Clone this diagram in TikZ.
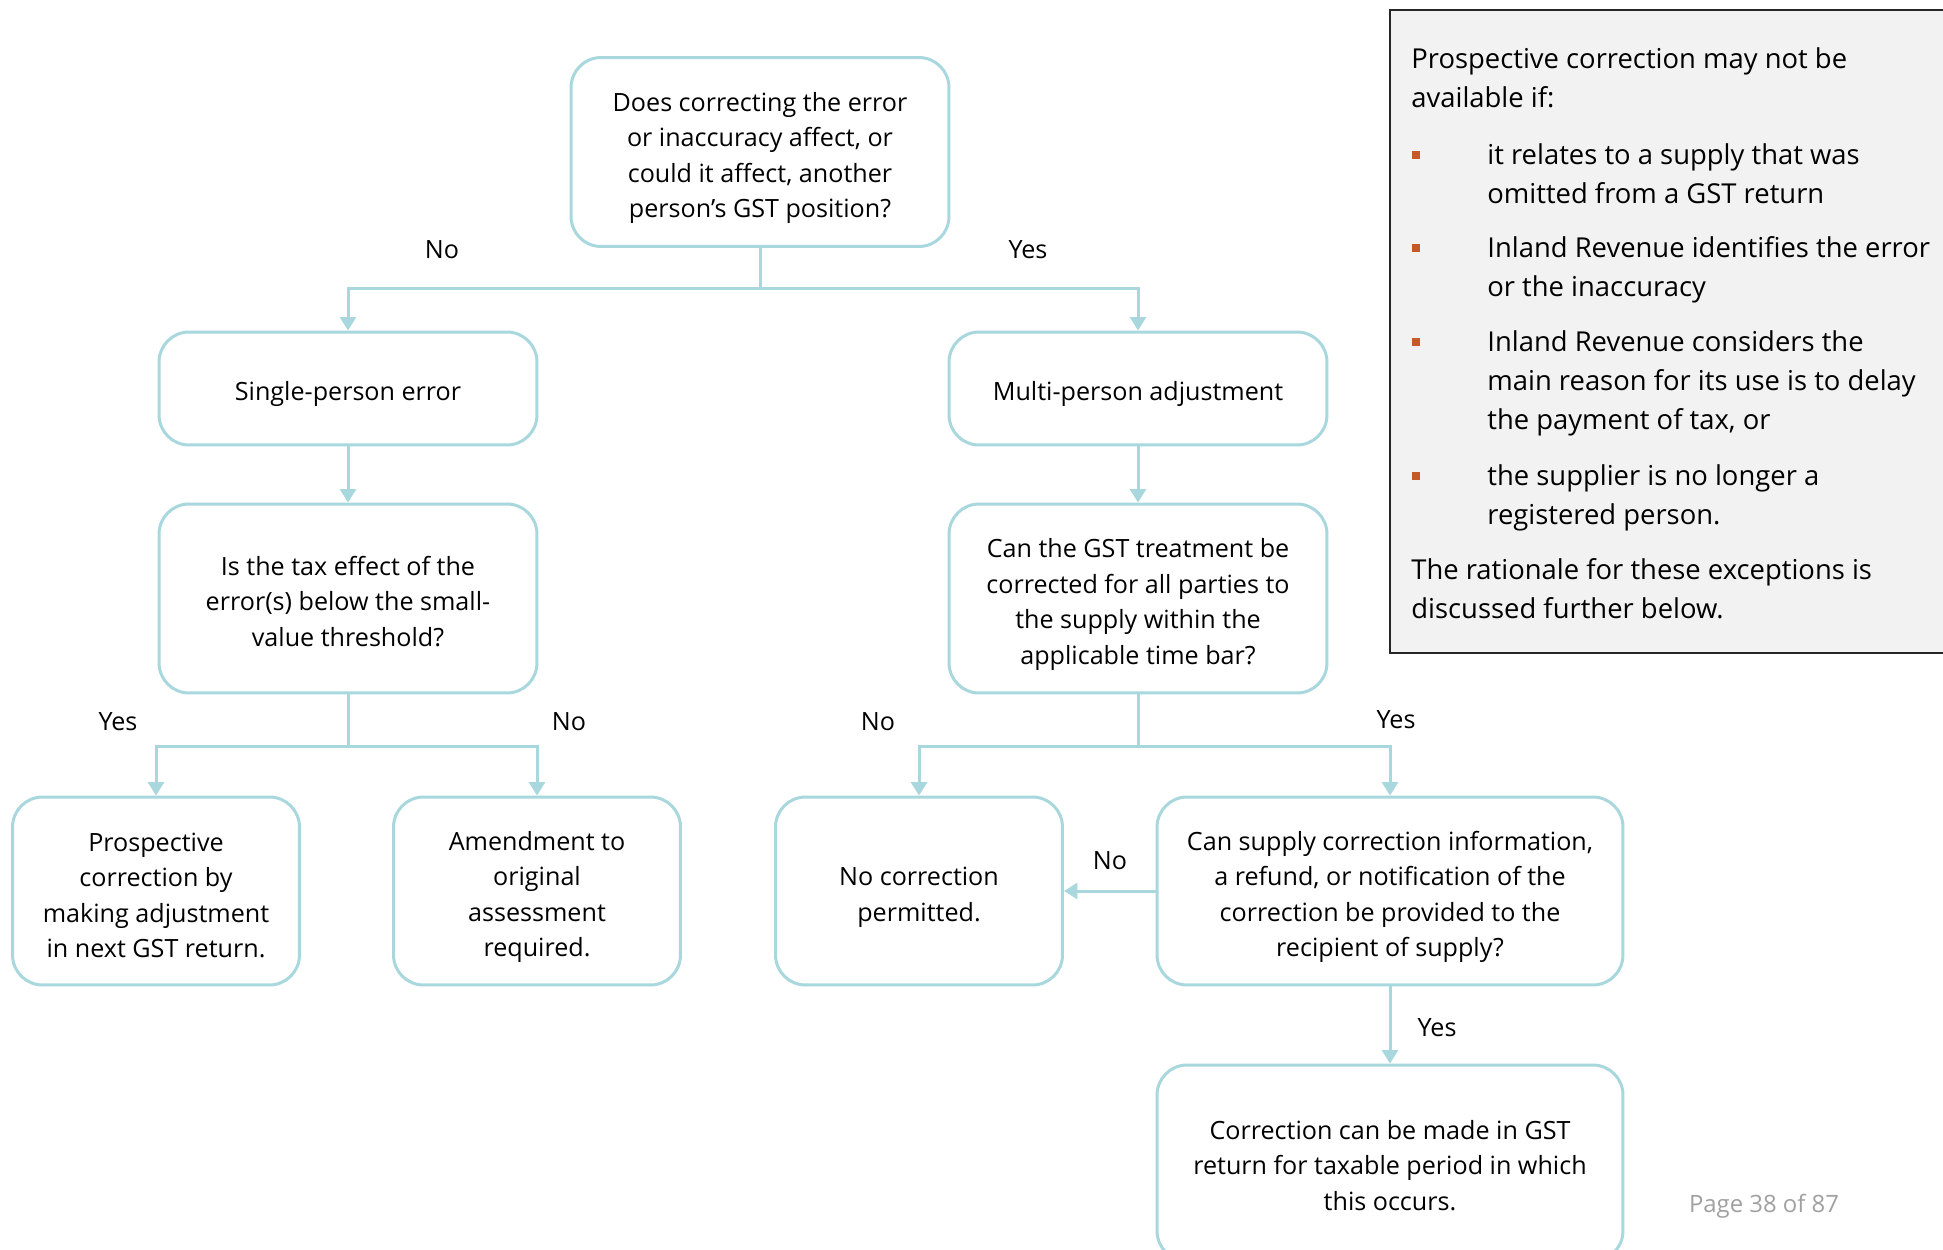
\documentclass[tikz,border=0pt]{standalone}
\usepackage{fontspec}
\setmainfont{Open Sans}
\usetikzlibrary{arrows.meta}

\definecolor{flowteal}{RGB}{168,215,221}
\definecolor{notegrey}{RGB}{242,242,242}
\definecolor{bulletorange}{RGB}{197,90,40}
\definecolor{pagegrey}{RGB}{160,160,160}

\newcommand{\flowfont}{\fontsize{14.3}{20.2}\selectfont}
\newcommand{\notefont}{\fontsize{15.6}{22.4}\selectfont}
% extra room above the first line, so the text sits a little lower in its box
\newcommand{\topgap}[1][0.62cm]{\rule{0pt}{#1}}

\begin{document}
\begin{tikzpicture}[x=0.02cm, y=-0.02cm]

    % --- Styles ---
    \tikzset{
        flowbox/.style={draw=flowteal, line width=0.06cm, rounded corners=0.6cm, align=center, font=\flowfont, inner sep=0pt},
        question/.style={flowbox, minimum width=7.56cm, minimum height=3.78cm},
        outcome/.style={flowbox, minimum width=7.56cm, minimum height=2.26cm},
        result/.style={flowbox, minimum width=5.74cm, minimum height=3.76cm},
        widebox/.style={flowbox, minimum width=9.32cm, minimum height=3.76cm},
        flowarrow/.style={draw=flowteal, line width=0.06cm, -{Triangle[length=0.27cm, width=0.32cm]}},
        answer/.style={font=\flowfont},
        notetext/.style={font=\notefont, align=left, anchor=north west, inner sep=0pt},
        bulletsq/.style={fill=bulletorange, minimum size=0.17cm, inner sep=0pt}
    }

    % page frame
    \path[use as bounding box, clip] (0,0) rectangle (1943,1250);

    % --- 1. Boxes ---
    \node[question] (affect) at (760,152) {\topgap Does correcting the error\\or inaccuracy affect, or\\could it affect, another\\person's GST position?};

    \node[outcome] (single) at (348,388.5) {\topgap Single-person error};
    \node[outcome] (multi) at (1138,388.5) {\topgap Multi-person adjustment};

    \node[question] (threshold) at (348,598.5) {\topgap[0.5cm]Is the tax effect of the\\error(s) below the small-\\value threshold?};
    \node[question] (timebar) at (1138,598.5) {\topgap Can the GST treatment be\\corrected for all parties to\\the supply within the\\applicable time bar?};

    \node[result] (prospective) at (156,891) {\topgap[0.54cm]Prospective\\correction by\\making adjustment\\in next GST return.};
    \node[result] (amendment) at (537,891) {\topgap Amendment to\\original\\assessment\\required.};
    \node[result] (nocorrection) at (919,891) {\topgap No correction\\permitted.};
    \node[widebox] (supplyinfo) at (1390,891) {\topgap Can supply correction information,\\a refund, or notification of the\\correction be provided to the\\recipient of supply?};
    \node[widebox, minimum height=3.92cm] (nextreturn) at (1390,1163) {\topgap[0.48cm]Correction can be made in GST\\return for taxable period in which\\this occurs.};

    % --- 2. Connectors ---
    \draw[flowarrow] (affect.south) -- ++(0,41) -| (single.north);
    \draw[flowarrow] (affect.south) -- ++(0,41) -| (multi.north);
    \draw[flowarrow] (single) -- (threshold);
    \draw[flowarrow] (multi) -- (timebar);
    \draw[flowarrow] (threshold.south) -- ++(0,52) -| (prospective.north);
    \draw[flowarrow] (threshold.south) -- ++(0,52) -| (amendment.north);
    \draw[flowarrow] (timebar.south) -- ++(0,52) -| (nocorrection.north);
    \draw[flowarrow] (timebar.south) -- ++(0,52) -| (supplyinfo.north);
    \draw[flowarrow] (supplyinfo.west) -- (nocorrection.east);
    \draw[flowarrow] (supplyinfo.south) -- (nextreturn.north);

    % --- 3. Answers ---
    \node[answer] (noaffect) at (442,250) {No};
    \node[answer] (yesaffect) at (1028,250) {Yes};
    \node[answer] (yesthreshold) at (118,722) {Yes};
    \node[answer] (nothreshold) at (569,722) {No};
    \node[answer] (notimebar) at (878,722) {No};
    \node[answer] (yestimebar) at (1396,720) {Yes};
    \node[answer] (nosupply) at (1110,861) {No};
    \node[answer] (yessupply) at (1437,1028) {Yes};

    % --- 4. Note panel ---
    \draw[fill=notegrey, draw=black!85, line width=0.04cm] (1390,10) rectangle (1970,653);

    \node[notetext] (noteintro) at (1411,47) {Prospective correction may not be\\available if:};
    \node[bulletsq] (bulletone) at (1416,155) {};
    \node[notetext] (noteone) at (1487,143) {it relates to a supply that was\\omitted from a GST return};
    \node[bulletsq] (bullettwo) at (1416,248) {};
    \node[notetext] (notetwo) at (1487,236) {Inland Revenue identifies the error\\or the inaccuracy};
    \node[bulletsq] (bulletthree) at (1416,342) {};
    \node[notetext] (notethree) at (1487,330) {Inland Revenue considers the\\main reason for its use is to delay\\the payment of tax, or};
    \node[bulletsq] (bulletfour) at (1416,476) {};
    \node[notetext] (notefour) at (1487,464) {the supplier is no longer a\\registered person.};
    \node[notetext] (noteend) at (1411,558) {The rationale for these exceptions is\\discussed further below.};

    % page number
    \node[font=\fontsize{13.6}{16}\selectfont, text=pagegrey] (pagenum) at (1764,1206) {Page 38 of 87};

\end{tikzpicture}
\end{document}
